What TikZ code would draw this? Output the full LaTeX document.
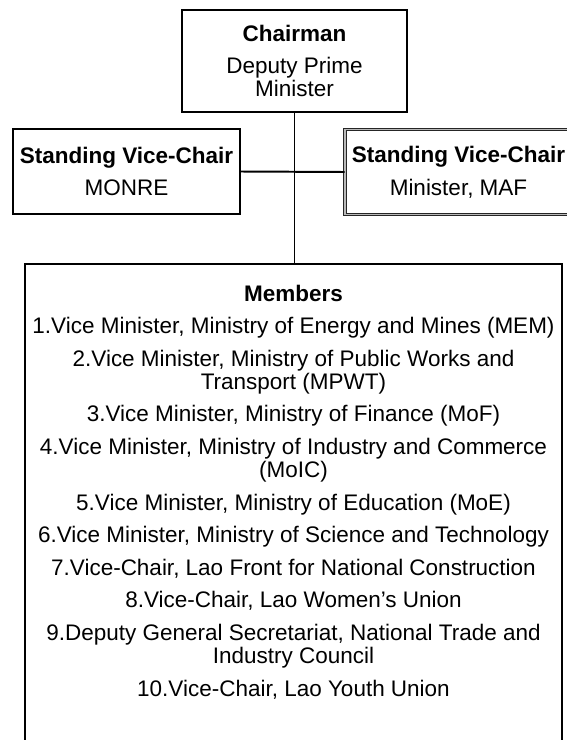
\documentclass[tikz,border=0pt]{standalone}
\usepackage{fontspec}
\setmainfont{Liberation Sans}
\usetikzlibrary{positioning}

% fixed line pitch in the boxes
\newcommand{\boxfont}{\fontsize{16pt}{16.3pt}\selectfont\lineskiplimit-20pt\relax}

\begin{document}
\begin{tikzpicture}[
		font=\boxfont,
		box/.style={
			draw,
			rectangle,
			line width=1.4pt,
			align=center,
			minimum width=5.675cm,
			minimum height=2.125cm
		},
		framedbox/.style={
			box,
			line width=0.6pt,
			draw=black!85,
			double=gray!55,
			double distance=1.1pt
		},
		link/.style={line width=1.4pt}
		]
		
		% ---- page ----
		\clip (0,0) rectangle (14.175,-18.5);
		
		% ---- Chairman ----
		\node[box, minimum width=5.625cm, minimum height=2.55cm] (chair) at (7.3625,-1.525)
		{\textbf{Chairman}\\[7pt]Deputy Prime\\Minister};
		
		% ---- Standing Vice-Chairs ----
		\node[box] (monre) at (3.1625,-4.2875)
		{\textbf{Standing Vice-Chair}\\[7pt]MONRE};
		
		\node[framedbox] (maf) at (11.4625,-4.3)
		{\textbf{Standing Vice-Chair}\\[7pt]Minister, MAF};
		
		% ---- Members ----
		\node[box, minimum width=13.425cm, minimum height=12cm, anchor=north] (members) at (7.3375,-6.575) {};
		
		\node[anchor=north, align=center, inner sep=0pt] (list) at ([yshift=-0.54cm]members.north)
		{\textbf{Members}\\[6.9pt]
			1.Vice Minister, Ministry of Energy and Mines (MEM)\\[6.9pt]
			2.Vice Minister, Ministry of Public Works and\\Transport (MPWT)\\[6.9pt]
			3.Vice Minister, Ministry of Finance (MoF)\\[6.9pt]
			4.Vice Minister, Ministry of Industry and Commerce\\(MoIC)\\[6.9pt]
			5.Vice Minister, Ministry of Education (MoE)\\[6.9pt]
			6.Vice Minister, Ministry of Science and Technology\\[6.9pt]
			7.Vice-Chair, Lao Front for National Construction\\[6.9pt]
			8.Vice-Chair, Lao Women’s Union\\[6.9pt]
			9.Deputy General Secretariat, National Trade and\\Industry Council\\[6.9pt]
			10.Vice-Chair, Lao Youth Union};
		
		% ---- Lines ----
		\draw[link] (chair.south) -- (chair.south |- members.north);
		\draw[link] (monre.east) -- (maf.west);
		
	\end{tikzpicture}
\end{document}
